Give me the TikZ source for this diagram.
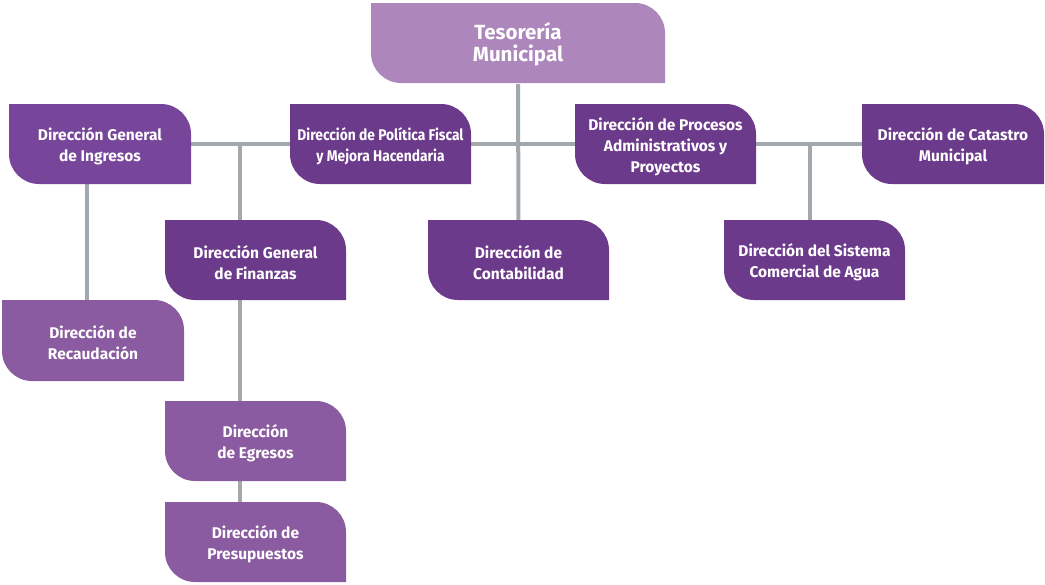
\documentclass[tikz,border=0pt]{standalone}
\usepackage{fontspec}
\setmainfont{Fira Sans}
\pgfdeclarelayer{bg}
\pgfdeclarelayer{background}
\pgfsetlayers{bg,background,main}
\definecolor{lightp}{HTML}{AD86BC}
\definecolor{darkp}{HTML}{6C3A8B}
\definecolor{ingp}{HTML}{77469A}
\definecolor{midp}{HTML}{8A5BA1}
\definecolor{linec}{HTML}{A2A9AE}
\tikzset{
  txt/.style={text=white, font=\bfseries\fontsize{15.5}{21}\selectfont, align=center, inner sep=0pt, yshift=-2.5pt},
  title/.style={txt, font=\bfseries\fontsize{20.5}{22}\selectfont, yshift=1.5pt},
  conn/.style={draw=linec, line width=4pt},
}
\newcommand\orgbox[8]{% style name x1 y1 x2 y2 color text
  \fill[#7] (#3,#4) -- ({#5-30},#4) arc(270:360:30) -- (#5,#6) -- ({#3+30},#6) arc(90:180:30) -- cycle;
  \node[#1, minimum width={#5pt-#3pt}, minimum height={#6pt-#4pt}] (#2) at ({(#3+#5)/2},{(#4+#6)/2}) {#8};
}
\newcommand\sq[1]{\scalebox{0.89}[1]{#1}}
\begin{document}
\begin{tikzpicture}[x=1pt,y=-1pt]
\begin{pgfonlayer}{bg}
\useasboundingbox[fill=white] (0,0) rectangle (1045,582);
\end{pgfonlayer}
\orgbox{title}{tes}{371}{3}{665}{83}{lightp}{Tesorería\\Municipal}
\orgbox{txt}{ing}{9}{104}{191}{184}{ingp}{Dirección General\\de Ingresos}
\orgbox{txt}{pol}{290}{104}{471}{184}{darkp}{\sq{Dirección de Política Fiscal}\\\sq{y Mejora Hacendaria}}
\orgbox{txt}{pro}{575}{104}{756}{184}{darkp}{Dirección de Procesos\\Administrativos y\\Proyectos}
\orgbox{txt}{cat}{862}{104}{1044}{184}{darkp}{Dirección de Catastro\\Municipal}
\orgbox{txt}{fin}{165}{220}{346}{300}{darkp}{Dirección General\\de Finanzas}
\orgbox{txt}{con}{428}{220}{609}{300}{darkp}{Dirección de\\Contabilidad}
\orgbox{txt}{agu}{724}{220}{905}{300}{darkp}{Dirección del Sistema\\Comercial de Agua}
\orgbox{txt}{rec}{2}{300}{184}{381}{midp}{Dirección de\\Recaudación}
\orgbox{txt}{egr}{165}{401}{346}{481}{midp}{Dirección\\de Egresos}
\orgbox{txt}{pre}{165}{502}{346}{582}{midp}{Dirección de\\Presupuestos}
\coordinate (jf) at (240,144);
\coordinate (ja) at (810,144);
\coordinate (ji) at (87,184);
\coordinate (jr) at (87,300);
\coordinate (jf2) at (240,300);
\coordinate (je) at (240,401);
\coordinate (je2) at (240,481);
\coordinate (jp) at (240,502);
\coordinate (jfn) at (240,220);
\coordinate (jan) at (810,220);
\begin{pgfonlayer}{background}
\draw[conn] (ing.east |- jf) -- (cat.west |- jf);
\draw[conn] (tes.south) -- (con.north);
\draw[conn] (jf) -- (jfn);
\draw[conn] (ja) -- (jan);
\draw[conn] (ji) -- (jr);
\draw[conn] (jf2) -- (je);
\draw[conn] (je2) -- (jp);
\end{pgfonlayer}
\end{tikzpicture}
\end{document}
